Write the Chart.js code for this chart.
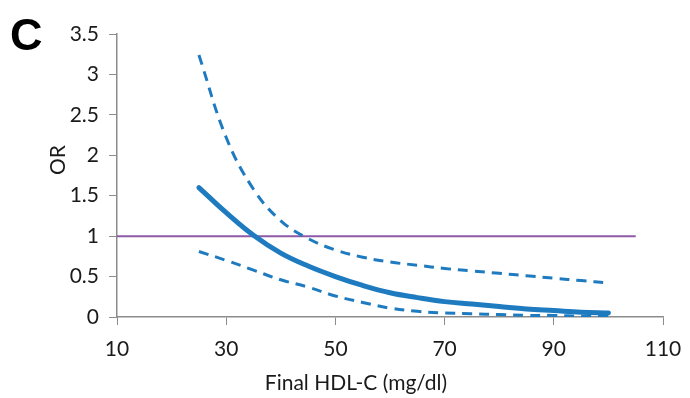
<!DOCTYPE html>
<html>
<head>
<meta charset="utf-8">
<script src="https://cdn.jsdelivr.net/npm/chart.js@4"></script>
<style>
    html, body { margin: 0; padding: 0; background: #fff; }
    #wrap { width: 690px; height: 398px; position: relative; }
</style>
</head>
<body>
<div id="wrap"><canvas id="orChart"></canvas></div>
<script>
// HDL-C levels (mg/dl) where the odds ratio was evaluated
const hdl = [25, 30, 35, 40, 45, 50, 55, 60, 65, 70, 75, 80, 85, 90, 95, 100];
// Odds ratio estimate and 95% CI bounds
const orEstimate = [1.60, 1.29, 1.01, 0.79, 0.63, 0.50, 0.39, 0.30, 0.24, 0.19, 0.16, 0.13, 0.10, 0.08, 0.06, 0.05];
const orUpper = [3.24, 2.22, 1.58, 1.19, 0.97, 0.83, 0.74, 0.68, 0.64, 0.60, 0.57, 0.54, 0.51, 0.48, 0.45, 0.42];
const orLower = [0.81, 0.70, 0.58, 0.46, 0.37, 0.26, 0.18, 0.11, 0.07, 0.05, 0.04, 0.03, 0.02, 0.02, 0.01, 0.01];
// Reference line OR = 1
const refX = [10, 105];
const refY = [1, 1];

const blue = '#1f7bc0';
const purple = '#8e5aa8';
const axisGray = '#8c8c8c';
const textColor = '#1a1a1a';
const fontFamily = 'Lato, "Open Sans", sans-serif';

const toPoints = (xs, ys) => xs.map((x, i) => ({ x: x, y: ys[i] }));

// panel letter and axis titles (placed like the original Excel layout,
// which does not centre them on the plot area)
const figureText = {
    id: 'figureText',
    afterDraw(chart) {
        const c = chart.ctx;
        c.save();
        c.fillStyle = '#000';
        c.font = 'bold 45px "Liberation Sans", Arial, sans-serif';
        c.textBaseline = 'alphabetic';
        c.fillText('C', 10, 50);

        c.fillStyle = textColor;
        c.font = '21px ' + fontFamily;
        c.textAlign = 'center';
        c.textBaseline = 'middle';
        c.fillText('Final HDL-C (mg/dl)', 356, 383);

        c.translate(58, 160);
        c.rotate(-Math.PI / 2);
        c.fillText('OR', 0, 0);
        c.restore();
    }
};

const ctx = document.getElementById('orChart').getContext('2d');
const orChart = new Chart(ctx, {
    type: 'line',
    data: {
        datasets: [
            {
                label: 'OR',
                data: toPoints(hdl, orEstimate),
                borderColor: blue,
                borderWidth: 5,
                borderCapStyle: 'round',
                pointRadius: 0,
                tension: 0.4
            },
            {
                label: 'Upper 95% CI',
                data: toPoints(hdl, orUpper),
                borderColor: blue,
                borderWidth: 3,
                borderDash: [10, 7],
                pointRadius: 0,
                tension: 0.4
            },
            {
                label: 'Lower 95% CI',
                data: toPoints(hdl, orLower),
                borderColor: blue,
                borderWidth: 3,
                borderDash: [10, 7],
                pointRadius: 0,
                tension: 0.4
            },
            {
                label: 'OR = 1',
                data: toPoints(refX, refY),
                borderColor: purple,
                borderWidth: 2,
                pointRadius: 0
            }
        ]
    },
    options: {
        responsive: true,
        maintainAspectRatio: false,
        animation: false,
        layout: {
            padding: { top: 34, right: 27, left: 0, bottom: 0 }
        },
        scales: {
            x: {
                type: 'linear',
                min: 10,
                max: 110,
                ticks: {
                    stepSize: 20,
                    color: textColor,
                    font: { family: fontFamily, size: 21 },
                    padding: 12
                },
                grid: {
                    drawOnChartArea: false,
                    drawTicks: true,
                    tickLength: 8,
                    color: axisGray
                },
                border: { color: axisGray, width: 1.5 },
                afterFit(scale) {
                    scale.height = 81;
                    scale.paddingRight = 0;
                }
            },
            y: {
                min: 0,
                max: 3.5,
                ticks: {
                    stepSize: 0.5,
                    color: textColor,
                    font: { family: fontFamily, size: 21 },
                    padding: 10,
                    callback: (value) => String(value)
                },
                grid: {
                    drawOnChartArea: false,
                    drawTicks: true,
                    tickLength: 8,
                    color: axisGray
                },
                border: { color: axisGray, width: 1.5 },
                afterFit(scale) { scale.width = 117; }
            }
        },
        plugins: {
            legend: { display: false },
            tooltip: { enabled: false }
        }
    },
    plugins: [figureText]
});
</script>
</body>
</html>
